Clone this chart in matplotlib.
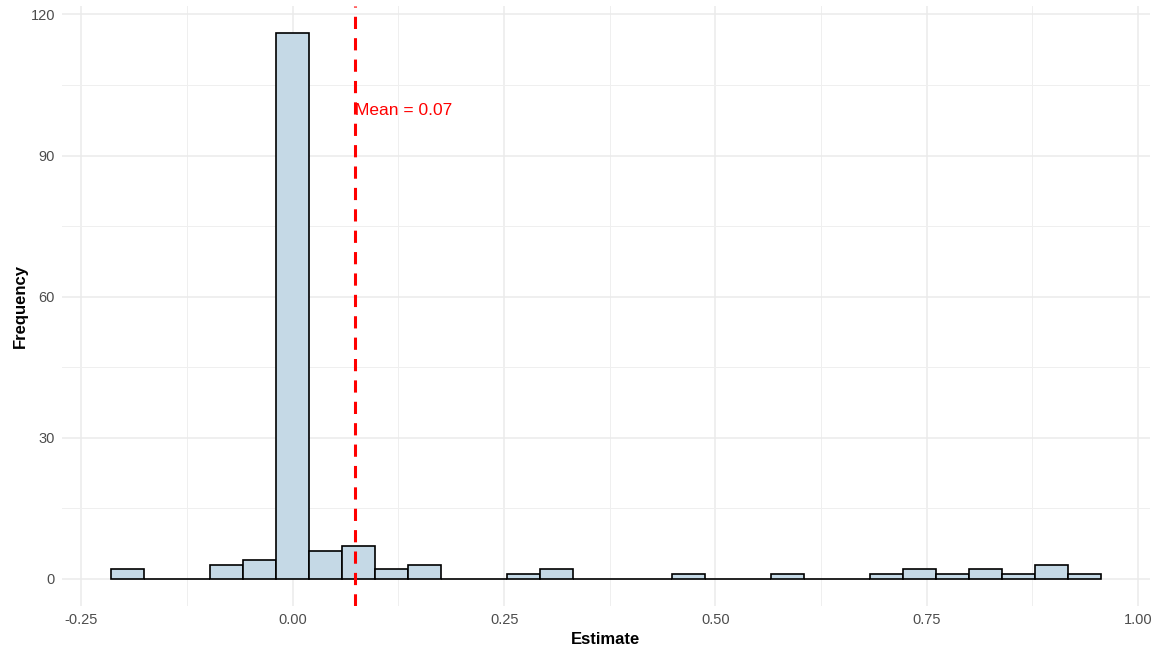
import numpy as np
import matplotlib.pyplot as plt
from matplotlib.ticker import MultipleLocator

# --- Data ---
bin_centers = [-0.195, -0.156, -0.117, -0.078, -0.039, 0.000, 0.039, 0.078,
               0.117, 0.156, 0.195, 0.234, 0.273, 0.312, 0.351, 0.390,
               0.429, 0.468, 0.507, 0.546, 0.585, 0.624, 0.663, 0.702,
               0.741, 0.780, 0.819, 0.858, 0.897, 0.936]
counts = [2, 0, 0, 3, 4, 116, 6, 7, 2, 3, 0, 0, 1, 2, 0, 0,
          0, 1, 0, 0, 1, 0, 0, 1, 2, 1, 2, 1, 3, 1]
bin_width = 0.039
mean_est = 0.0735
mean_label = "Mean = 0.07"
x_ticks = [-0.25, 0.00, 0.25, 0.50, 0.75, 1.00]
y_ticks = [0, 30, 60, 90, 120]

plt.rcParams['font.family'] = ['Liberation Sans', 'DejaVu Sans']

fig = plt.figure(figsize=(11.61, 6.54), dpi=100)
ax = fig.add_axes([62 / 1161, 1 - 606 / 654, (1150 - 62) / 1161, (606 - 6) / 654])

ax.bar(bin_centers, counts, width=bin_width, color='#c5d9e6',
       edgecolor='black', linewidth=1.2, zorder=3)
ax.axvline(mean_est, color='#ff0000', linestyle=(0, (4, 3)), linewidth=2.2, zorder=4)
ax.text(mean_est, 99.5, mean_label, color='#ff0000', fontsize=12.5,
        ha='left', va='center', zorder=5)

# ggplot-like expansion
lo = bin_centers[0] - bin_width / 2
hi = bin_centers[-1] + bin_width / 2
pad = (hi - lo) * 0.05
ax.set_xlim(lo - pad, hi + pad)
ax.set_ylim(-max(counts) * 0.05, max(counts) * 1.05)

ax.set_xticks(x_ticks)
ax.set_xticklabels([f"{t:.2f}" for t in x_ticks])
ax.set_yticks(y_ticks)
ax.xaxis.set_minor_locator(MultipleLocator(0.125))
ax.yaxis.set_minor_locator(MultipleLocator(15))

ax.grid(True, which='major', color='#ebebeb', linewidth=1.1, zorder=0)
ax.grid(True, which='minor', color='#efefef', linewidth=0.7, zorder=0)
ax.set_axisbelow(True)
for s in ax.spines.values():
    s.set_visible(False)
ax.tick_params(which='both', length=0, labelsize=10.5, labelcolor='#4d4d4d', pad=5)

ax.set_xlabel("Estimate", fontsize=12, fontweight='bold', labelpad=4)
ax.set_ylabel("Frequency", fontsize=12, fontweight='bold', labelpad=2)

fig.savefig("out.png", dpi=100)
